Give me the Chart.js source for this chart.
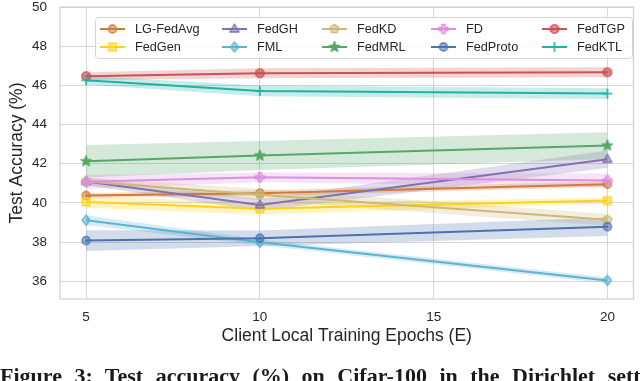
<!DOCTYPE html>
<html><head><meta charset="utf-8">
<script src="https://cdn.jsdelivr.net/npm/chart.js@4.4.1/dist/chart.umd.min.js"></script>
<style>
html,body{margin:0;padding:0;background:#fff;}
#wrap{position:relative;width:640px;height:381px;overflow:hidden;background:#fff;}
#c{position:absolute;left:0;top:0;}
#cap{position:absolute;left:0;top:365px;font-family:'Liberation Serif',serif;font-weight:bold;font-size:22px;line-height:22px;white-space:nowrap;color:#1a1a1a;word-spacing:7px;}
</style></head><body>
<div id="wrap"><canvas id="c" width="640" height="381"></canvas>
<div id="cap">Figure 3: Test accuracy (%) on Cifar-100 in the Dirichlet setting</div></div>
<script>
// ---- data ----
const epochs = [5, 10, 20];
const xTicks = [5, 10, 15, 20];
const yTicks = [36, 38, 40, 42, 44, 46, 48, 50];
const methods = ['LG-FedAvg', 'FedGen', 'FedGH', 'FML', 'FedKD', 'FedMRL', 'FD', 'FedProto', 'FedTGP', 'FedKTL'];

const accLGFedAvg = [40.38, 40.50, 40.96];
const accFedGen   = [40.05, 39.70, 40.12];
const accFedGH    = [41.10, 39.90, 42.23];
const accFML      = [39.12, 37.99, 36.05];
const accFedKD    = [41.10, 40.42, 39.14];
const accFedMRL   = [42.13, 42.42, 42.93];
const accFD       = [41.08, 41.31, 41.15];
const accFedProto = [38.08, 38.20, 38.79];
const accFedTGP   = [46.47, 46.62, 46.67];
const accFedKTL   = [46.26, 45.72, 45.58];

const stdLGFedAvg = [0.13, 0.15, 0.15];
const stdFedGen   = [0.30, 0.30, 0.15];
const stdFedGH    = [0.20, 0.30, 0.45];
const stdFML      = [0.25, 0.15, 0.15];
const stdFedKD    = [0.20, 0.30, 0.30];
const stdFedMRL   = [0.83, 0.74, 0.68];
const stdFD       = [0.35, 0.25, 0.35];
const stdFedProto = [0.53, 0.40, 0.47];
const stdFedTGP   = [0.20, 0.25, 0.25];
const stdFedKTL   = [0.22, 0.28, 0.28];

const accs = [accLGFedAvg, accFedGen, accFedGH, accFML, accFedKD, accFedMRL, accFD, accFedProto, accFedTGP, accFedKTL];
const stds = [stdLGFedAvg, stdFedGen, stdFedGH, stdFML, stdFedKD, stdFedMRL, stdFD, stdFedProto, stdFedTGP, stdFedKTL];

// ---- styles ----
const colors = ['#d27b35', '#ffd21a', '#8172b3', '#5db4d0', '#ccb974', '#55a868', '#dd8fdd', '#4c72b0', '#cc5256', '#21b2a6'];
const shapes = ['circle', 'square', 'triangle', 'diamond', 'pentagon', 'star', 'plusFilled', 'circle', 'octagon', 'plus'];

function rgba(hex, a) {
  const n = parseInt(hex.slice(1), 16);
  return `rgba(${(n >> 16) & 255},${(n >> 8) & 255},${n & 255},${a})`;
}
function makeMarker(shape, color) {
  const s = 16, c = document.createElement('canvas');
  c.width = s; c.height = s;
  const g = c.getContext('2d');
  g.translate(s / 2, s / 2);
  g.strokeStyle = color; g.fillStyle = rgba(color, 0.55); g.lineWidth = 1.3;
  g.lineJoin = 'round';
  g.beginPath();
  const poly = (n, r, off) => { for (let k = 0; k < n; k++) { const a = off + k * 2 * Math.PI / n; const px = r * Math.cos(a), py = r * Math.sin(a); k ? g.lineTo(px, py) : g.moveTo(px, py); } g.closePath(); };
  switch (shape) {
    case 'circle': g.arc(0, 0, 4.0, 0, 2 * Math.PI); break;
    case 'octagon': poly(8, 4.4, Math.PI / 8); break;
    case 'triangle': g.moveTo(0, -5.0); g.lineTo(4.5, 3.0); g.lineTo(-4.5, 3.0); g.closePath(); break;
    case 'square': g.rect(-3.8, -3.8, 7.6, 7.6); break;
    case 'diamond': g.moveTo(0, -5.1); g.lineTo(4.0, 0); g.lineTo(0, 5.1); g.lineTo(-4.0, 0); g.closePath(); break;
    case 'pentagon': poly(5, 4.6, -Math.PI / 2); break;
    case 'star': for (let k = 0; k < 10; k++) { const r = k % 2 ? 2.3 : 5.4; const a = -Math.PI / 2 + k * Math.PI / 5; const px = r * Math.cos(a), py = r * Math.sin(a); k ? g.lineTo(px, py) : g.moveTo(px, py); } g.closePath(); break;
    case 'plusFilled': { const t = 1.6, e = 4.6; g.moveTo(-t, -e); g.lineTo(t, -e); g.lineTo(t, -t); g.lineTo(e, -t); g.lineTo(e, t); g.lineTo(t, t); g.lineTo(t, e); g.lineTo(-t, e); g.lineTo(-t, t); g.lineTo(-e, t); g.lineTo(-e, -t); g.lineTo(-t, -t); g.closePath(); break; }
    case 'plus': g.lineWidth = 1.6; g.moveTo(-5, 0); g.lineTo(5, 0); g.moveTo(0, -5); g.lineTo(0, 5); g.stroke(); return c;
  }
  if (shape === 'star') g.fillStyle = color;
  g.fill(); g.stroke();
  if (shape === 'octagon') { g.beginPath(); g.lineWidth = 0.8; g.moveTo(-3, -3); g.lineTo(3, 3); g.moveTo(3, -3); g.lineTo(-3, 3); g.moveTo(-4.3, 0); g.lineTo(4.3, 0); g.stroke(); }
  if (shape === 'circle') { g.beginPath(); g.fillStyle = color; g.arc(0, 0, 1.2, 0, 2 * Math.PI); g.fill(); }
  return c;
}
const markerImgs = shapes.map((s, i) => makeMarker(s, colors[i]));

// ---- datasets ----
const datasets = [];
methods.forEach((m, i) => {
  datasets.push({
    label: m + ' upper',
    data: epochs.map((x, k) => ({ x, y: accs[i][k] + stds[i][k] })),
    borderWidth: 0, borderColor: 'rgba(0,0,0,0)', pointRadius: 0,
    backgroundColor: rgba(colors[i], 0.25), fill: '+1', order: 200 - i, tension: 0
  });
  datasets.push({
    label: m + ' lower',
    data: epochs.map((x, k) => ({ x, y: accs[i][k] - stds[i][k] })),
    borderWidth: 0, borderColor: 'rgba(0,0,0,0)', pointRadius: 0, fill: false, order: 200 - i, tension: 0
  });
});
methods.forEach((m, i) => {
  datasets.push({
    label: m,
    data: epochs.map((x, k) => ({ x, y: accs[i][k] })),
    borderColor: colors[i], borderWidth: 2, backgroundColor: colors[i],
    pointStyle: markerImgs[i], pointRadius: 4.5, fill: false, order: 50 - i, tension: 0
  });
});

const tickFont = { family: "'Liberation Sans', Arial, sans-serif", size: 13.5, lineHeight: 1 };
const titleFont = { family: "'Liberation Sans', Arial, sans-serif", size: 17.5, lineHeight: 1.2 };
const gridColor = '#d6d6d6';
const textColor = '#262626';

const framePlugin = {
  id: 'frame',
  afterDatasetsDraw(chart) {
    const { ctx, chartArea: a } = chart;
    ctx.save(); ctx.strokeStyle = '#cfcfcf'; ctx.lineWidth = 1.2;
    ctx.strokeRect(a.left, a.top, a.right - a.left, a.bottom - a.top);
    ctx.restore();
  }
};
const legendPlugin = {
  id: 'gridLegend',
  afterDraw(chart) {
    const ctx = chart.ctx;
    const colX = [100, 222, 322, 431, 542];
    const rowY = [29, 47];
    ctx.save();
    const bx = 95.5, by = 17.5, bw = 537, bh = 41, r = 3;
    ctx.beginPath();
    ctx.moveTo(bx + r, by); ctx.lineTo(bx + bw - r, by); ctx.quadraticCurveTo(bx + bw, by, bx + bw, by + r);
    ctx.lineTo(bx + bw, by + bh - r); ctx.quadraticCurveTo(bx + bw, by + bh, bx + bw - r, by + bh);
    ctx.lineTo(bx + r, by + bh); ctx.quadraticCurveTo(bx, by + bh, bx, by + bh - r);
    ctx.lineTo(bx, by + r); ctx.quadraticCurveTo(bx, by, bx + r, by); ctx.closePath();
    ctx.fillStyle = 'rgba(255,255,255,0.85)'; ctx.fill();
    ctx.strokeStyle = '#d4d4d4'; ctx.lineWidth = 1; ctx.stroke();
    ctx.font = "12.7px 'Liberation Sans', Arial, sans-serif";
    ctx.textBaseline = 'middle'; ctx.textAlign = 'left';
    methods.forEach((m, j) => {
      const x0 = colX[Math.floor(j / 2)], y = rowY[j % 2];
      ctx.strokeStyle = colors[j]; ctx.lineWidth = 2;
      ctx.beginPath(); ctx.moveTo(x0, y); ctx.lineTo(x0 + 25, y); ctx.stroke();
      const im = markerImgs[j];
      ctx.drawImage(im, x0 + 12.5 - im.width / 2, y - im.height / 2);
      ctx.fillStyle = textColor;
      ctx.fillText(m, x0 + 35, y + 0.5);
    });
    ctx.restore();
  }
};
const noPad = s => { s.paddingTop = 0; s.paddingBottom = 0; s.paddingLeft = 0; s.paddingRight = 0; };

new Chart(document.getElementById('c'), {
  type: 'line',
  data: { datasets },
  options: {
    responsive: false, animation: false, devicePixelRatio: 1,
    layout: { padding: { top: 7, right: 2, left: 0, bottom: 0 } },
    plugins: { legend: { display: false }, tooltip: { enabled: false }, filler: { propagate: false } },
    scales: {
      x: {
        type: 'linear', min: 4.25, max: 20.75,
        afterBuildTicks: s => { s.ticks = xTicks.map(v => ({ value: v })); },
        afterFit: s => { s.height = 82; noPad(s); },
        grid: { color: gridColor, lineWidth: 1, drawTicks: false },
        border: { display: false },
        ticks: { font: tickFont, color: textColor, padding: 12, maxRotation: 0 },
        title: { display: true, text: 'Client Local Training Epochs (E)', font: titleFont, color: textColor, padding: { top: 0, bottom: 34.5 } }
      },
      y: {
        min: 35.1, max: 50,
        afterBuildTicks: s => { s.ticks = yTicks.map(v => ({ value: v })); },
        afterFit: s => { s.width = 60; noPad(s); },
        grid: { color: gridColor, lineWidth: 1, drawTicks: false },
        border: { display: false },
        ticks: { font: tickFont, color: textColor, padding: 13 },
        title: { display: true, text: 'Test Accuracy (%)', font: titleFont, color: textColor, padding: { top: 7, bottom: 0 } }
      }
    }
  },
  plugins: [framePlugin, legendPlugin]
});
</script>
</body></html>
